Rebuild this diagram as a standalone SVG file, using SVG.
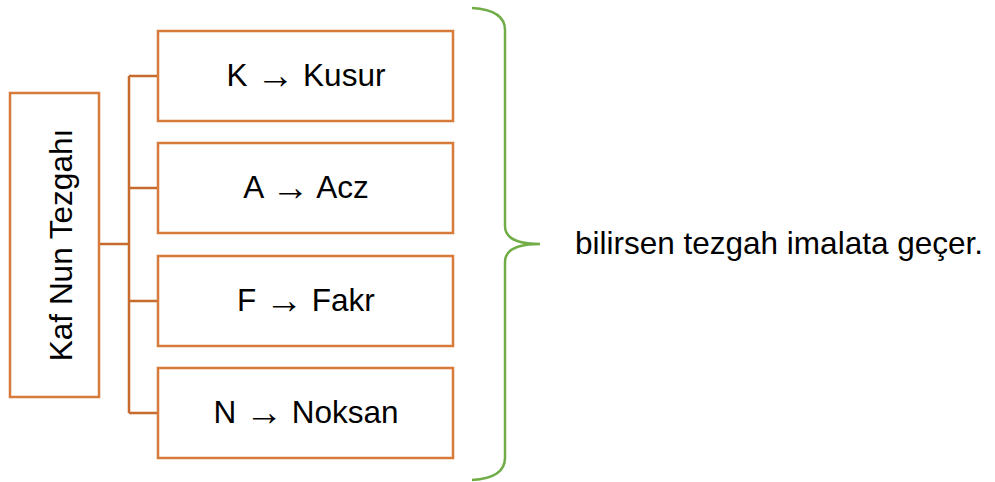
<svg xmlns="http://www.w3.org/2000/svg" width="995" height="482" viewBox="0 0 995 482">
<style>
.box{fill:#fff;stroke:#D87A3A;stroke-width:2.5}
.con{fill:none;stroke:#C86A2E;stroke-width:2.5}
.t{font-family:"Liberation Sans",Arial,sans-serif;font-size:31.5px;fill:#000;text-anchor:middle}
.ar{font-size:38px}
</style>
<rect width="995" height="482" fill="#fff"/>
<g id="connectors">
<path class="con" d="M99,244 H129 M129,76 V413 M129,76 H158 M129,188 H158 M129,301 H158 M129,413 H158"/>
</g>
<g id="root">
<rect class="box" x="10" y="93" width="89" height="304"/>
<text class="t" transform="translate(72,245) rotate(-90)">Kaf Nun Tezgahı</text>
</g>
<g id="k">
<rect class="box" x="158" y="31" width="295" height="90"/>
<text class="t" x="306" y="86">K <tspan class="ar" dy="2">→</tspan><tspan dy="-2"> Kusur</tspan></text>
</g>
<g id="a">
<rect class="box" x="158" y="143" width="295" height="90"/>
<text class="t" x="306" y="198">A <tspan class="ar" dy="2">→</tspan><tspan dy="-2"> Acz</tspan></text>
</g>
<g id="f">
<rect class="box" x="158" y="256" width="295" height="90"/>
<text class="t" x="306" y="311">F <tspan class="ar" dy="2">→</tspan><tspan dy="-2"> Fakr</tspan></text>
</g>
<g id="n">
<rect class="box" x="158" y="368" width="295" height="90"/>
<text class="t" x="306" y="423">N <tspan class="ar" dy="2">→</tspan><tspan dy="-2"> Noksan</tspan></text>
</g>
<g id="brace">
<path d="M472,8 Q505,10 505,30 V226 Q505,244 540,244 Q505,244 505,262 V458 Q505,478 472,480" fill="none" stroke="#70AD47" stroke-width="2.5"/>
</g>
<g id="result">
<text class="t" x="575" y="254" style="text-anchor:start">bilirsen tezgah imalata geçer.</text>
</g>
</svg>
